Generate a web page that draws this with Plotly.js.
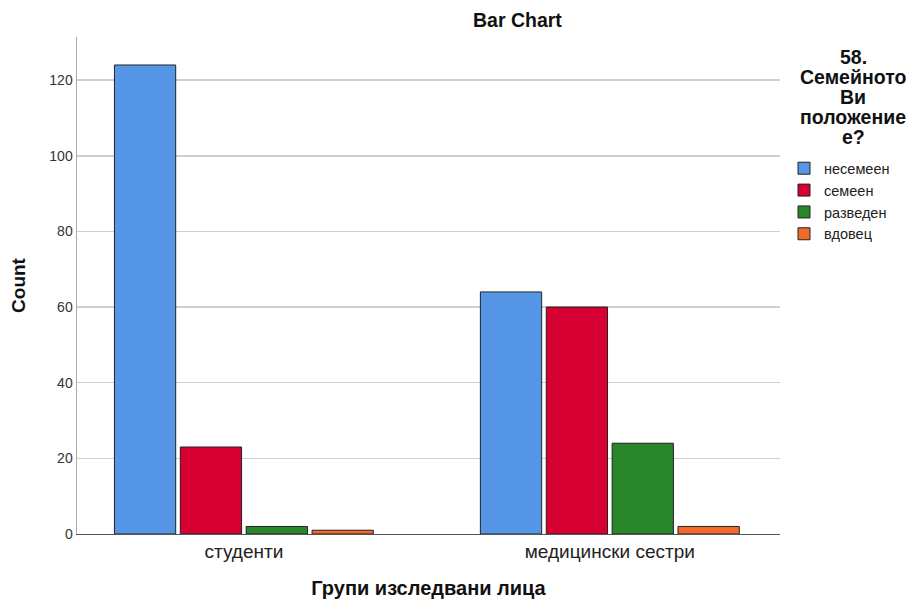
<!DOCTYPE html>
<html><head><meta charset="utf-8">
<script src="https://cdn.plot.ly/plotly-3.0.1.min.js"></script>
<style>body{margin:0;background:#fff}#c{width:908px;height:609px}</style>
</head><body><div id="c"></div>
<script>
const categories = ["студенти", "медицински сестри"];
const seriesNames = ["несемеен", "семеен", "разведен", "вдовец"];
const neseemeen = [124, 64];
const semeen = [23, 60];
const razveden = [2, 24];
const vdovec = [1, 2];
const legendTitleLines = ["58.", "Семейното", "Ви", "положение", "е?"];
const colors = ["#5597e6", "#d60032", "#29862a", "#f26a29"];
const values = [neseemeen, semeen, razveden, vdovec];

const font = "Liberation Sans, Arial, sans-serif";
const traces = values.map((v, i) => ({
  type: "bar", x: categories, y: v, name: seriesNames[i],
  marker: {color: colors[i], line: {color: "#222", width: 1}},
  hoverinfo: "x+y+name"
}));

const plotH = 609 - 37 - 75;
const titleAnns = legendTitleLines.map((t, i) => ({
  text: "<b>" + t + "</b>", xref: "paper", yref: "paper",
  x: 1.104, y: (534 - (57 + 20 * i)) / plotH, xanchor: "center", yanchor: "middle",
  showarrow: false, font: {size: 19.5, family: font, color: "#111"}
}));

const layout = {
  width: 908, height: 609,
  margin: {l: 77, r: 128, t: 37, b: 75, autoexpand: false},
  paper_bgcolor: "#fff", plot_bgcolor: "#fff",
  font: {family: font, color: "#222"},
  barmode: "group", bargap: 0.28, bargroupgap: 0.07,
  showlegend: true,
  xaxis: {
    type: "category", range: [-0.456, 1.465],
    showline: true, linecolor: "#555", linewidth: 1,
    ticks: "", tickfont: {size: 19, color: "#222", family: font},
    title: {text: "<b>Групи изследвани лица</b>", font: {size: 20, family: font, color: "#111"}, standoff: 20},
    showgrid: false, zeroline: false
  },
  yaxis: {
    range: [0, 131.4], tickvals: [0, 20, 40, 60, 80, 100, 120],
    showline: true, linecolor: "#aaa", linewidth: 1.5,
    showgrid: true, gridcolor: "#cfcfcf", gridwidth: 1.5,
    zeroline: false, ticks: "",
    tickfont: {size: 14, color: "#333", family: font},
    title: {text: "<b>Count</b>", font: {size: 19, family: font, color: "#111"}, standoff: 18}
  },
  legend: {
    x: 1.0057, xanchor: "left", y: 0.768, yanchor: "top",
    font: {size: 14.5, family: font, color: "#222"},
    tracegroupgap: 0, itemwidth: 30, bgcolor: "rgba(0,0,0,0)"
  },
  annotations: [
    {text: "<b>Bar Chart</b>", xref: "paper", yref: "paper", x: 0.627, y: 1, yshift: 17,
     xanchor: "center", yanchor: "middle", showarrow: false,
     font: {size: 19.5, family: font, color: "#111"}}
  ].concat(titleAnns)
};
Plotly.newPlot("c", traces, layout, {displayModeBar: false, staticPlot: true});
</script></body></html>
